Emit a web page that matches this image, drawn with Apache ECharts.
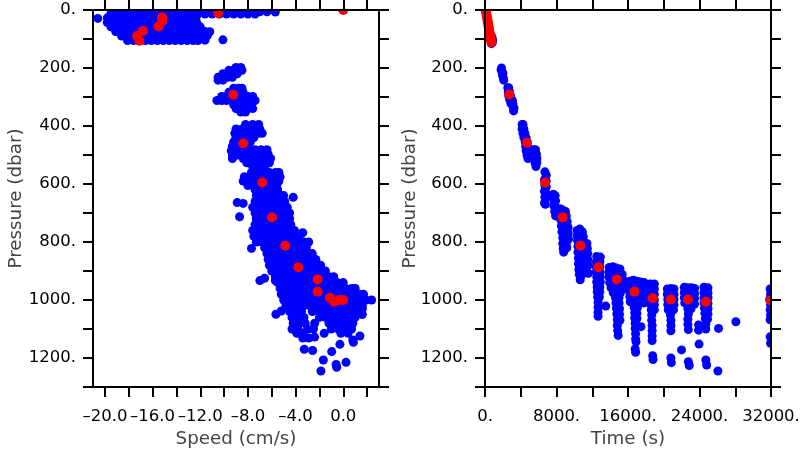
<!DOCTYPE html>
<html><head><meta charset="utf-8">
<script src="https://cdn.jsdelivr.net/npm/echarts@6/dist/echarts.min.js"></script>
<style>html,body{margin:0;padding:0;background:#fff}#c{width:800px;height:450px}</style>
</head><body><div id="c"></div>
<script>
// ---------- Left panel: Speed (cm/s) vs Pressure (dbar) ----------
// rows: [pressure, speed1, speed2, ...] read from the dense blue clouds
const speedBlueRows = [
  [6, -13.0,-12.4,-11.8,-11.2,-10.6,-10.0,-9.4,-8.8,-8.2,-7.6,-7.0,-6.4],
  [14, -12.8,-12.2,-11.6,-11.0,-10.4,-9.8,-9.2,-8.6,-8.0,-7.4],
  [12, -19.5,-19.0,-18.5,-18.0,-17.5,-17.0,-16.5,-16.0,-15.5,-15.0,-14.5,-14.0,-13.5],
  [27, -19.8,-19.3,-18.8,-18.3,-17.8,-17.3,-16.8,-16.3,-15.8,-15.3,-14.8,-14.3,-13.8,-13.3,-12.8,-12.4],
  [43, -19.8,-19.3,-18.8,-18.3,-17.8,-17.3,-16.8,-16.3,-15.8,-15.3,-14.8,-14.3,-13.8,-13.3,-12.8,-12.3],
  [58, -19.5,-19.0,-18.5,-18.0,-17.5,-17.0,-16.5,-16.0,-15.5,-15.0,-14.5,-14.0,-13.5,-13.0,-12.5,-12.0],
  [74, -19.1,-18.6,-18.1,-17.6,-17.1,-16.6,-16.1,-15.6,-15.1,-14.6,-14.1,-13.6,-13.1,-12.6,-12.1,-11.6],
  [90, -18.6,-18.1,-17.6,-17.1,-16.6,-16.1,-15.6,-15.1,-14.6,-14.1,-13.6,-13.1,-12.6,-12.1,-11.7],
  [105, -18.1,-17.6,-17.1,-16.6,-16.1,-15.6,-15.1,-14.6,-14.1,-13.6,-13.1,-12.6,-12.2],
  [198, -9.0,-8.6],
  [208, -9.6,-9.2,-8.8,-8.5],
  [220, -10.1,-9.7,-9.3,-8.9],
  [232, -10.5,-10.1,-9.7,-9.3],
  [242, -10.5,-10.1],
  [270, -9.2,-8.8,-8.5],
  [284, -9.6,-9.2,-8.8,-8.4],
  [298, -10.2,-9.8,-9.4,-9.0,-8.5,-8.0,-7.6],
  [312, -10.6,-10.2,-9.8,-9.3,-8.8,-8.3,-7.8,-7.4],
  [326, -9.2,-8.7,-8.2,-7.7],
  [340, -9.0,-8.5,-8.0,-7.6],
  [352, -8.6,-8.2],
  [395, -8.2,-7.6,-7.1],
  [410, -9.0,-8.5,-8.0,-7.5,-7.0],
  [425, -9.1,-8.6,-8.1,-7.6,-7.1,-6.8],
  [440, -9.0,-8.5,-8.0,-7.5],
  [455, -9.2,-8.7,-8.2,-7.8],
  [470, -9.3,-8.8,-8.3],
  [485, -9.4,-8.9],
  [500, -9.3,-8.9],
  [512, -9.3],
  [482, -7.9,-7.4,-6.9,-6.4],
  [497, -8.3,-7.8,-7.3,-6.8,-6.3],
  [512, -8.4,-7.9,-7.4,-6.9,-6.4,-6.1],
  [527, -8.1,-7.6,-7.1,-6.6,-6.2],
  [540, -7.6,-7.1,-6.6],
  [560, -7.7,-7.2,-6.7,-6.2,-5.7,-5.4],
  [575, -8.3,-7.8,-7.3,-6.8,-6.3,-5.8,-5.3],
  [590, -8.4,-7.9,-7.4,-6.9,-6.4,-5.9,-5.4],
  [605, -8.0,-7.5,-7.0,-6.5,-6.0,-5.6],
  [620, -7.4,-6.9,-6.4,-5.9,-5.5],
  [640, -7.3,-6.8,-6.3,-5.8,-5.3,-5.0],
  [660, -7.4,-6.9,-6.4,-5.9,-5.4,-4.9],
  [680, -7.6,-7.1,-6.6,-6.1,-5.6,-5.1,-4.7],
  [700, -7.4,-6.9,-6.4,-5.9,-5.4,-4.9,-4.5],
  [720, -7.3,-6.8,-6.3,-5.8,-5.3,-4.8,-4.5],
  [740, -7.4,-6.9,-6.4,-5.9,-5.4,-4.9,-4.4],
  [760, -7.6,-7.1,-6.6,-6.1,-5.6,-5.1,-4.6,-4.1],
  [780, -7.5,-7.0,-6.5,-6.0,-5.5,-5.0,-4.5,-4.0,-3.7],
  [800, -7.3,-6.8,-6.3,-5.8,-5.3,-4.8,-4.3,-3.8,-3.3,-2.9],
  [820, -6.6,-6.1,-5.6,-5.1,-4.6,-4.1,-3.6,-3.1],
  [840, -6.4,-5.9,-5.4,-4.9,-4.4,-3.9,-3.4,-2.9,-2.6],
  [860, -6.3,-5.8,-5.3,-4.8,-4.3,-3.8,-3.3,-2.8,-2.3],
  [880, -6.2,-5.7,-5.2,-4.7,-4.2,-3.7,-3.2,-2.7,-2.2,-1.9],
  [900, -6.0,-5.5,-5.0,-4.5,-4.0,-3.5,-3.0,-2.5,-2.0,-1.5],
  [920, -5.7,-5.2,-4.7,-4.2,-3.7,-3.2,-2.7,-2.2,-1.7,-1.2,-0.8],
  [940, -5.5,-5.0,-4.5,-4.0,-3.5,-3.0,-2.5,-2.0,-1.5,-1.0,-0.5,0.0],
  [960, -5.3,-4.8,-4.3,-3.8,-3.3,-2.8,-2.3,-1.8,-1.3,-0.8,-0.3,0.2,0.7,1.0],
  [980, -5.2,-4.7,-4.2,-3.7,-3.2,-2.7,-2.2,-1.7,-1.2,-0.7,-0.2,0.3,0.8,1.3,1.7],
  [1000, -5.0,-4.5,-4.0,-3.5,-3.0,-2.5,-2.0,-1.5,-1.0,-0.5,0.0,0.5,1.0,1.5,1.9],
  [1020, -4.8,-4.3,-3.8,-3.3,-2.8,-2.3,-1.8,-1.3,-0.8,-0.3,0.2,0.7,1.2,1.6],
  [1040, -4.5,-4.0,-3.5,-2.6,-2.1,-1.6,-1.1,-0.6,-0.1,0.4,0.9,1.4],
  [1060, -4.3,-3.8,-3.3,-2.0,-1.5,-1.0,-0.5,0.0,0.5,1.0],
  [1080, -4.2,-3.7,-3.2,-2.4,-1.2,-0.7,-0.2,0.3,0.8],
  [1100, -4.3,-3.8,-3.0,-2.5,-1.0,-0.4,0.2,0.7],
  [1115, -3.9,-3.4,-1.6,-0.2,0.4]
];
// isolated blue points [speed, pressure]
const speedBlueSingles = [
  [-5.7,7],[-20.6,29],[-11.2,75],[-11.4,88],[-10.1,103],[-11.6,104],
  [-8.9,664],[-8.4,667],[-8.7,713],[-4.2,646],[-3.4,768],[-7.4,764],[-3.1,808],[-7.7,822],
  [-7.0,933],[-6.6,925],[-5.7,933],[-5.65,1049],[-5.2,1038],[-4.8,1017],[-4.1,1057],
  [-3.4,1131],[-2.9,1131],[-2.4,1128],[-3.27,1170],[-2.57,1174],[-1.87,1245],[-1.67,1207],
  [-0.97,1178],[-0.6,1222],[-0.55,1232],[-0.28,1153],[0.23,1215],[0.8,1138],[0.85,1146],
  [1.4,1124],[1.57,1007],[1.6,1030],[1.6,1050],[2.38,1000]
];
const speedRed = [
  [0,0],[-10.5,11],[-15.2,26],[-15.2,38],[-15.5,57],[-16.8,72],[-17.3,90],[-17.1,106],
  [-9.23,292],[-8.39,460],[-6.8,595],[-5.98,715],[-4.87,813],[-3.78,887],[-2.15,929],
  [-2.15,971],[-1.12,992],[-0.76,1006],[-0.34,1000],[0,1000]
];

// ---------- Right panel: Time (s) vs Pressure (dbar) ----------
const timeBlue = [
  [700,100],[760,110],[820,112],[850,104],[790,95],[720,116],
  [1850,200],[1800,206],[1900,212],[2000,218],[1950,224],[2050,234],[2100,242],
  [2550,268],[2650,268],[2600,282],[2750,282],[2650,296],[2850,296],[2750,308],[2950,308],[3050,312],
  [2900,322],[3100,322],[3150,336],[3250,338],[3200,348],
  [4150,395],[4250,395],[4150,410],[4350,410],[4250,425],[4450,425],[4350,440],[4600,440],[4500,455],
  [4700,455],[4550,470],[4750,470],[4600,485],[4800,485],[4700,500],[4900,500],[4800,512],
  [5450,482],[5650,482],[5500,497],[5750,497],[5550,512],[5800,512],[5600,527],[5800,527],[5700,540],
  [6700,558],[6850,570],[6650,585],[6850,590],[6700,605],[6850,610],[6650,625],[6800,630],[6700,645],
  [6800,650],[6650,665],[6750,670],
  [7650,635],[7850,640],[7700,655],[7900,658],[7700,675],[7900,680],[7800,695],[7900,710],
  [8400,685],[8700,690],[9000,695],[8400,705],[8750,705],[9100,710],[8500,725],[8850,730],[9200,730],
  [8550,745],[8900,750],[9300,750],[8600,765],[8950,768],[9300,770],[8700,785],[9050,790],[9350,790],
  [8700,805],[9100,805],[8750,822],[9150,820],[8800,835],
  [10300,760],[10600,755],[10900,765],[10300,778],[10650,775],[11000,782],[10350,795],[10650,795],
  [11000,800],[11400,805],[10400,815],[10700,815],[11050,818],[11450,822],[10400,835],[10750,835],
  [11100,838],[11500,840],[10450,855],[10750,855],[11100,858],[11500,860],[10450,875],[10750,875],
  [11150,878],[11550,880],[10500,895],[10800,895],[10550,912],[10800,915],[10650,930],[11570,908],
  [12500,850],[12900,852],[12450,868],[12850,868],[12450,885],[12850,885],[12450,902],[12850,902],
  [12500,920],[12900,920],[12500,938],[12900,938],[12550,955],[12850,955],[12550,972],[12850,972],
  [12600,990],[12800,990],[12650,1008],[12650,1025],[12650,1042],[12650,1056],[13510,1021],
  [13900,888],[14300,885],[14700,890],[15100,893],[13850,905],[14250,905],[14650,908],[15050,910],
  [15350,912],[13900,922],[14300,922],[15100,925],[15400,928],[13950,940],[14350,940],[14750,945],
  [15150,943],[15400,945],[14100,958],[14500,958],[14900,960],[15300,960],[14350,975],[14750,975],
  [15150,975],[14600,992],[15000,992],[14650,1010],[15000,1010],[14700,1028],[15050,1030],[14750,1048],
  [15050,1050],[14800,1068],[15100,1070],[14800,1088],[14850,1106],[14900,1122],
  [16200,935],[16600,932],[17000,935],[17400,938],[17800,940],[16150,952],[16550,952],[16950,955],
  [17350,955],[17750,958],[16150,970],[17100,972],[17500,972],[17850,975],[16200,988],[16600,990],
  [17000,990],[17400,992],[17800,992],[16250,1006],[16650,1008],[17050,1008],[17450,1010],[17800,1010],
  [16700,1026],[17050,1026],[16750,1044],[17000,1046],[16750,1062],[17000,1064],[16800,1080],[16800,1098],
  [16850,1116],[16850,1134],[16900,1144],[17450,1092],[16800,1169],[16850,1180],
  [18500,945],[18950,945],[18500,962],[18950,962],[18550,980],[18950,980],[18550,998],[18950,1000],
  [18550,1016],[18950,1016],[18600,1034],[18950,1034],[18650,1052],[18650,1070],[18700,1088],[18700,1106],
  [18700,1124],[18700,1140],[18760,1192],[18800,1205],
  [20400,962],[20800,960],[21150,962],[20400,980],[20800,980],[21150,980],[20450,998],[21150,998],
  [20450,1016],[20800,1016],[21150,1016],[20500,1034],[20850,1034],[21100,1034],[20750,1052],[20800,1070],
  [20800,1088],[20800,1106],[20800,1200],[20850,1216],[21990,1172],
  [22300,956],[22700,958],[23100,958],[23450,960],[22300,974],[22700,975],[23100,975],[23450,978],
  [22300,992],[23100,994],[23450,995],[22350,1010],[22750,1012],[23150,1012],[23450,1014],[22700,1030],
  [23050,1030],[22750,1048],[22700,1066],[22700,1084],[22750,1102],[22750,1213],[22850,1226],
  [24500,956],[24950,958],[24500,974],[24950,976],[24500,992],[24950,992],[24500,1010],[24950,1012],
  [24550,1028],[24950,1030],[24600,1046],[24950,1048],[24650,1064],[24900,1066],[24700,1084],[24700,1100],
  [23900,1086],[23900,1104],[23950,1152],[24710,1207],[24800,1224],
  [26130,1098],[26060,1245],[28070,1075],
  [31900,962],[31950,980],[31850,998],[31950,1016],[31900,1034],[31950,1052],[31900,1068],
  [31900,1127],[31950,1149]
];
const timeRed = [
  [110,5],[160,14],[210,23],[260,32],[310,41],[360,50],[410,59],[460,68],[510,77],[560,86],
  [610,95],[660,104],[720,112],
  [2720,291],[4700,458],[6720,595],[8700,715],[10670,813],[12680,887],[14740,929],[16710,971],
  [18760,994],[20790,998],[22700,998],[24710,1006],[31950,1002]
];

// tick values / labels
const speedTicks = [-20,-18,-16,-14,-12,-10,-8,-6,-4,-2,0,2];
const speedLabels = [-20,-16,-12,-8,-4,0];
const pressureMin = 0, pressureMax = 1300, pressureStep = 100;
const timeMin = 0, timeMax = 32000, timeStep = 4000;

// build pairs
const speedBlue = [];
speedBlueRows.forEach(r => { for (let i = 1; i < r.length; i++) speedBlue.push([r[i], r[0]]); });
speedBlueSingles.forEach(p => speedBlue.push(p));

const FONT = 'DejaVu Sans';
const AXZ = 10;
const axisLineStyle = { color: '#000', width: 2 };
const tick = { show: true, inside: false, length: 10, lineStyle: { color: '#000', width: 2 } };
const xl = { color: '#000', fontFamily: FONT, fontSize: 16.5, margin: 21, hideOverlap: false, showMinLabel: true, showMaxLabel: true };
const yl = { color: '#000', fontFamily: FONT, fontSize: 16.5, margin: 17, hideOverlap: false, showMinLabel: true, showMaxLabel: true };
const nameStyle = { color: '#444', fontFamily: FONT, fontSize: 18.3 };

function pLabel(v) { return v % 200 === 0 ? v + '.' : ''; }
function sLabel(v) { return (v < 0 ? '\u2013' + Math.abs(v).toFixed(1) : v.toFixed(1)); }

function yAx(gi, pos, show, name, gap) {
  return {
    type: 'value', gridIndex: gi, position: pos, inverse: true, z: AXZ,
    min: pressureMin, max: pressureMax, interval: pressureStep,
    axisLine: { show: true, onZero: false, lineStyle: axisLineStyle },
    axisTick: tick, splitLine: { show: false },
    axisLabel: Object.assign({ show: show, formatter: pLabel }, yl),
    name: name, nameLocation: 'middle', nameGap: gap, nameTextStyle: nameStyle, nameMoveOverlap: false
  };
}

const option = {
  animation: false,
  backgroundColor: '#fff',
  grid: [
    { left: 93, top: 10, width: 286, height: 377, containLabel: false, outerBoundsMode: 'none' },
    { left: 485, top: 10, width: 286, height: 377, containLabel: false, outerBoundsMode: 'none' }
  ],
  // white masks so dots are cut at the plot frame like the original
  graphic: [
    { type: 'rect', z: 5, silent: true, shape: { x: 0, y: 0, width: 800, height: 9 }, style: { fill: '#fff' } },
    { type: 'rect', z: 5, silent: true, shape: { x: 772, y: 0, width: 28, height: 450 }, style: { fill: '#fff' } }
  ],
  xAxis: [
    { type: 'value', gridIndex: 0, position: 'bottom', min: -21, max: 3, z: AXZ,
      axisLine: { show: true, onZero: false, lineStyle: axisLineStyle },
      axisTick: Object.assign({ customValues: speedTicks }, tick), splitLine: { show: false },
      axisLabel: Object.assign({ customValues: speedLabels, formatter: sLabel }, xl),
      name: 'Speed (cm/s)', nameLocation: 'middle', nameGap: 43, nameTextStyle: nameStyle, nameMoveOverlap: false },
    { type: 'value', gridIndex: 0, position: 'top', min: -21, max: 3, z: AXZ,
      axisLine: { show: true, onZero: false, lineStyle: axisLineStyle },
      axisTick: Object.assign({ customValues: speedTicks }, tick), splitLine: { show: false },
      axisLabel: { show: false } },
    { type: 'value', gridIndex: 1, position: 'bottom', min: timeMin, max: timeMax, interval: timeStep, z: AXZ,
      axisLine: { show: true, onZero: false, lineStyle: axisLineStyle },
      axisTick: tick, splitLine: { show: false },
      axisLabel: Object.assign({ formatter: v => (v % 8000 === 0 ? v + '.' : '') }, xl),
      name: 'Time (s)', nameLocation: 'middle', nameGap: 43, nameTextStyle: nameStyle, nameMoveOverlap: false },
    { type: 'value', gridIndex: 1, position: 'top', min: timeMin, max: timeMax, interval: timeStep, z: AXZ,
      axisLine: { show: true, onZero: false, lineStyle: axisLineStyle },
      axisTick: tick, splitLine: { show: false }, axisLabel: { show: false } }
  ],
  yAxis: [
    yAx(0, 'left', true, 'Pressure (dbar)', 68),
    yAx(0, 'right', false, '', 0),
    yAx(1, 'left', true, 'Pressure (dbar)', 66),
    yAx(1, 'right', false, '', 0)
  ],
  series: [
    { type: 'scatter', xAxisIndex: 0, yAxisIndex: 0, data: speedBlue, symbolSize: 9, z: 2,
      itemStyle: { color: '#0000ff', opacity: 1 }, emphasis: { disabled: true }, silent: true, clip: true },
    { type: 'scatter', xAxisIndex: 0, yAxisIndex: 0, data: speedRed, symbolSize: 10, z: 3,
      itemStyle: { color: '#ff0000', opacity: 1 }, emphasis: { disabled: true }, silent: true, clip: true },
    { type: 'scatter', xAxisIndex: 2, yAxisIndex: 2, data: timeBlue, symbolSize: 9, z: 2,
      itemStyle: { color: '#0000ff', opacity: 1 }, emphasis: { disabled: true }, silent: true, clip: true },
    { type: 'scatter', xAxisIndex: 2, yAxisIndex: 2, data: timeRed, symbolSize: 10, z: 3,
      itemStyle: { color: '#ff0000', opacity: 1 }, emphasis: { disabled: true }, silent: true, clip: true }
  ]
};
const chart = echarts.init(document.getElementById('c'), null, { renderer: 'canvas' });
chart.setOption(option);
</script>
</body></html>
